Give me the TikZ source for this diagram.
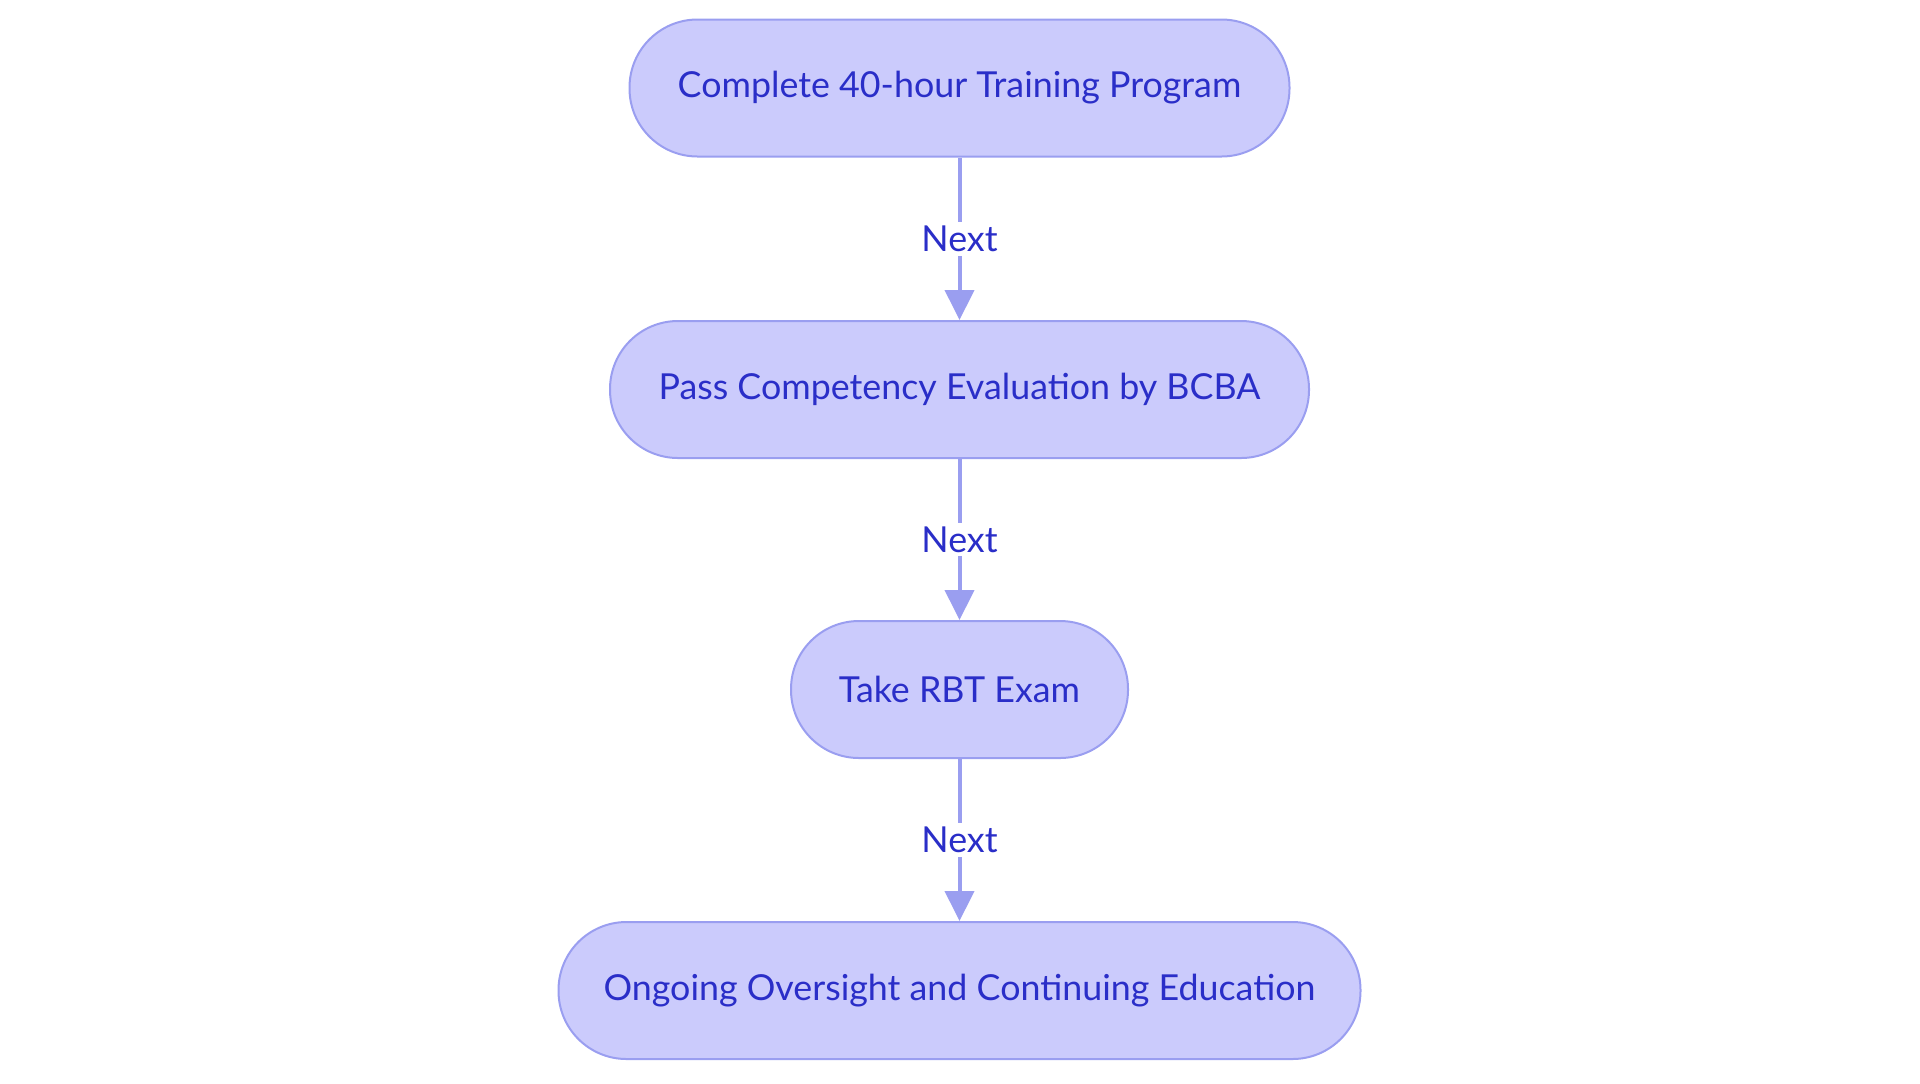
\documentclass[tikz,border=0pt]{standalone}
\usepackage{fontspec}
\setmainfont{Lato}
\usepackage{tikz}
\usetikzlibrary{arrows.meta}

\definecolor{stepfill}{RGB}{203,203,252}
\definecolor{stepline}{RGB}{154,158,240}
\definecolor{steptext}{RGB}{42,46,200}

\tikzset{
  stepbox/.style={draw=stepline, line width=1pt, fill=stepfill, text=steptext,
    rounded corners=34pt, minimum height=68.5pt, inner sep=0pt,
    font=\fontsize{17.9}{21}\selectfont},
  nextline/.style={draw=stepline, line width=2pt,
    -{Triangle[width=14.5pt,length=15pt]}},
  nextlabel/.style={fill=white, text=steptext, inner sep=2pt,
    font=\fontsize{17.9}{21}\selectfont}
}

\begin{document}
\begin{tikzpicture}[x=0.5pt,y=0.5pt,yscale=-1,xscale=1]
\useasboundingbox (0,0) rectangle (1920,1083);

% Step Nodes
\node [stepbox, minimum width=330pt] (training) at (959.5,88) {Complete 40-hour Training Program};
\node [stepbox, minimum width=349.5pt] (evaluation) at (959.5,389.5) {Pass Competency Evaluation by BCBA};
\node [stepbox, minimum width=168.5pt] (exam) at (959.5,689.5) {Take RBT Exam};
\node [stepbox, minimum width=401pt] (oversight) at (959.5,990.5) {Ongoing Oversight and Continuing Education};

% Connectors
\draw [nextline] (training) -- node [nextlabel] {Next} (evaluation);
\draw [nextline] (evaluation) -- node [nextlabel] {Next} (exam);
\draw [nextline] (exam) -- node [nextlabel] {Next} (oversight);

\end{tikzpicture}
\end{document}
